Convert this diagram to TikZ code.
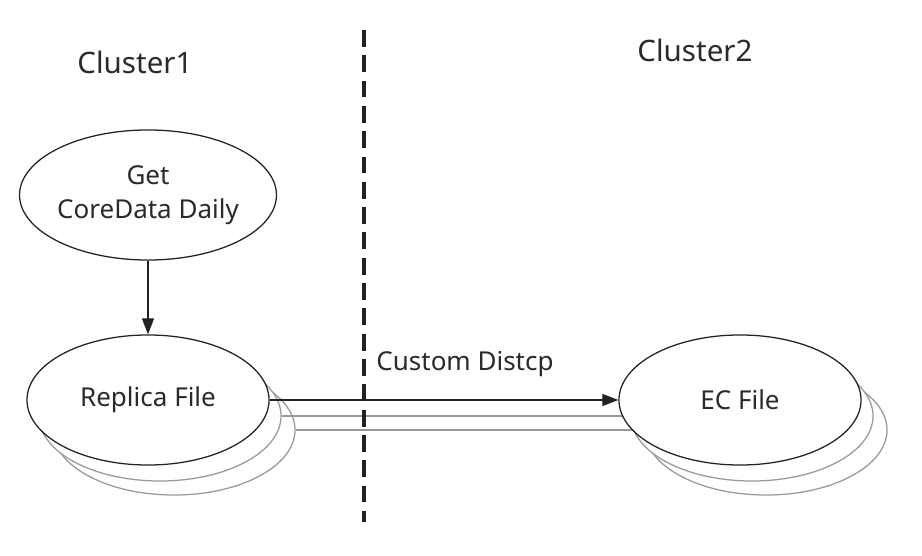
\documentclass[tikz,border=0pt]{standalone}
\usepackage{fontspec}
\setmainfont{Noto Sans}
\usepackage{tikz}
\usetikzlibrary{arrows.meta,positioning,shapes.geometric}
\definecolor{InkDark}{HTML}{222222}
\definecolor{TextGray}{HTML}{2A2A2A}
\definecolor{CopyGray}{HTML}{999999}

\begin{document}
\begin{tikzpicture}[x=0.025cm,y=-0.025cm,
fileset/.style={ellipse,draw=InkDark,fill=white,line width=0.9pt,minimum width=6.05cm,minimum height=3.25cm,inner sep=0pt,align=center,text=TextGray,font=\fontsize{18.5}{24}\selectfont},
copyset/.style={ellipse,draw=CopyGray,fill=white,line width=0.9pt,minimum width=6.05cm,minimum height=3.25cm,inner sep=0pt},
cluster/.style={text=TextGray,font=\fontsize{21}{25}\selectfont},
arr/.style={-{Triangle[length=4mm,width=3mm]},line width=0.9pt,InkDark}
]
\useasboundingbox (0,0) rectangle (922,556);
% copies behind the files
\node[copyset] (ecc2) at (766,430) {};
\node[copyset] (ecc1) at (752,416) {};
\node[copyset] (repc2) at (174,430) {};
\node[copyset] (repc1) at (160,416) {};
\draw[CopyGray,line width=0.9pt] (repc1.east) -- (ecc1.west);
\draw[CopyGray,line width=0.9pt] (repc2.east) -- (ecc2.west);
% files
\node[fileset] (daily) at (148,195) {Get\\CoreData Daily};
\node[fileset] (replica) at (148,400) {Replica File};
\node[fileset] (ecfile) at (740,400) {EC File};
\draw[arr] (daily) -- (replica);
\draw[arr] (replica) -- (ecfile);
\node[text=TextGray,font=\fontsize{18.5}{24}\selectfont] (distcp) at (465,364) {Custom Distcp};
% cluster border
\coordinate (divtop) at (364,30);
\coordinate (divbot) at (364,522);
\draw[InkDark,line width=2.4pt,dash pattern=on 12pt off 6pt] (divtop) -- (divbot);
\node[cluster] (cl1) at (135,62) {Cluster1};
\node[cluster] (cl2) at (695,50) {Cluster2};
\end{tikzpicture}
\end{document}
